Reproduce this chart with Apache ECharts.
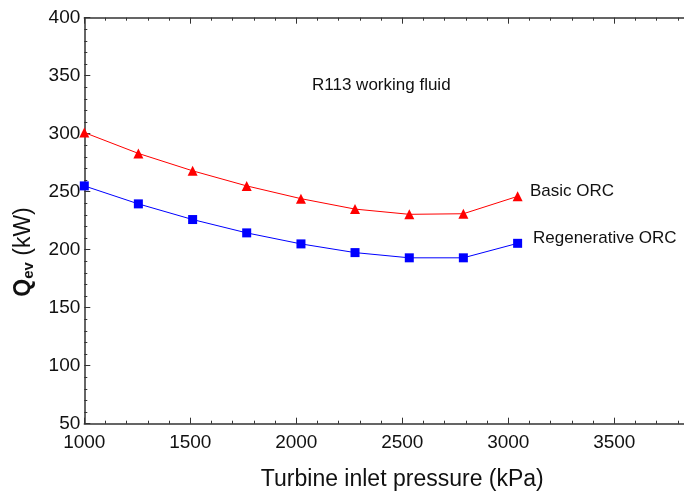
<!DOCTYPE html>
<html><head><meta charset="utf-8">
<script src="https://cdn.jsdelivr.net/npm/echarts@6/dist/echarts.min.js"></script>
<style>html,body{margin:0;padding:0;background:#fff}#c{width:684px;height:497px}</style>
</head><body><div id="c"></div>
<script>
const pressures = [1000, 1255, 1511, 1766, 2022, 2277, 2533, 2788, 3044];
const basicORC = [301, 283, 268, 255, 244, 235, 230.5, 231, 246];
const regenORC = [255, 239.5, 226, 214.5, 205, 197.5, 193, 193, 205.5];
const xTitle = 'Turbine inlet pressure (kPa)';
const seriesNames = ['Basic ORC', 'Regenerative ORC'];
const note = 'R113 working fluid';

const font = 'Liberation Sans, Arial, sans-serif';
const axisColor = '#333';
function pairs(xs, ys){ return xs.map((x,i)=>[x, ys[i]]); }
const plain = v => String(v);

const chart = echarts.init(document.getElementById('c'));
chart.setOption({
  animation: false,
  backgroundColor: '#fff',
  grid: {left: 84.3, top: 17.7, width: 636, height: 406, containLabel: false, outerBoundsMode: 'none'},
  xAxis: [{
    type: 'value', min: 1000, max: 4000, interval: 500, position: 'bottom',
    axisLine: {show: true, lineStyle: {color: axisColor, width: 1.5}},
    axisTick: {show: true, inside: true, length: 6, lineStyle: {color: axisColor, width: 1}},
    minorTick: {show: true, splitNumber: 5, length: 3, lineStyle: {color: axisColor, width: 1}},
    axisLabel: {color: '#111', fontSize: 19, fontFamily: font, margin: 10, formatter: plain},
    splitLine: {show: false},
    name: xTitle, nameLocation: 'middle', nameGap: 44,
    nameTextStyle: {fontSize: 23, fontFamily: font, color: '#111'}
  }, {
    type: 'value', min: 1000, max: 4000, interval: 500, position: 'top',
    axisLine: {show: true, lineStyle: {color: axisColor, width: 1.5}},
    axisTick: {show: true, inside: true, length: 6, lineStyle: {color: axisColor, width: 1}},
    minorTick: {show: true, splitNumber: 5, length: 3, lineStyle: {color: axisColor, width: 1}},
    axisLabel: {show: false}, splitLine: {show: false}
  }],
  yAxis: {
    type: 'value', min: 50, max: 400, interval: 50,
    axisLine: {show: true, lineStyle: {color: axisColor, width: 1.5}},
    axisTick: {show: true, inside: true, length: 6, lineStyle: {color: axisColor, width: 1}},
    minorTick: {show: true, splitNumber: 5, length: 3, lineStyle: {color: axisColor, width: 1}},
    axisLabel: {color: '#111', fontSize: 19, fontFamily: font, margin: 4, formatter: plain},
    splitLine: {show: false}
  },
  series: [{
    name: seriesNames[0], type: 'line', data: pairs(pressures, basicORC),
    symbol: 'triangle', symbolSize: 10,
    lineStyle: {color: '#ff0000', width: 1}, itemStyle: {color: '#ff0000'}
  }, {
    name: seriesNames[1], type: 'line', data: pairs(pressures, regenORC),
    symbol: 'rect', symbolSize: 9,
    lineStyle: {color: '#0000ff', width: 1}, itemStyle: {color: '#0000ff'}
  }],
  graphic: [
    {type: 'text', x: 312, y: 85, style: {text: note, font: '17px ' + font, fill: '#111', verticalAlign: 'middle'}},
    {type: 'text', x: 530, y: 191, style: {text: seriesNames[0], font: '17px ' + font, fill: '#111', verticalAlign: 'middle'}},
    {type: 'text', x: 533, y: 238, style: {text: seriesNames[1], font: '17px ' + font, fill: '#111', verticalAlign: 'middle'}},
    {type: 'text', x: 24, y: 252, rotation: Math.PI/2,
     style: {
       text: '{q|Q}{s|ev}{n| (kW)}', align: 'center', verticalAlign: 'middle',
       rich: {
         q: {fontSize: 23, fontWeight: 'bold', fontFamily: font, fill: '#111', color: '#111'},
         s: {fontSize: 15, fontWeight: 'bold', fontFamily: font, fill: '#111', color: '#111', padding: [10, 0, 0, 0]},
         n: {fontSize: 23, fontFamily: font, fill: '#111', color: '#111'}
       }
     }}
  ]
});
</script></body></html>
